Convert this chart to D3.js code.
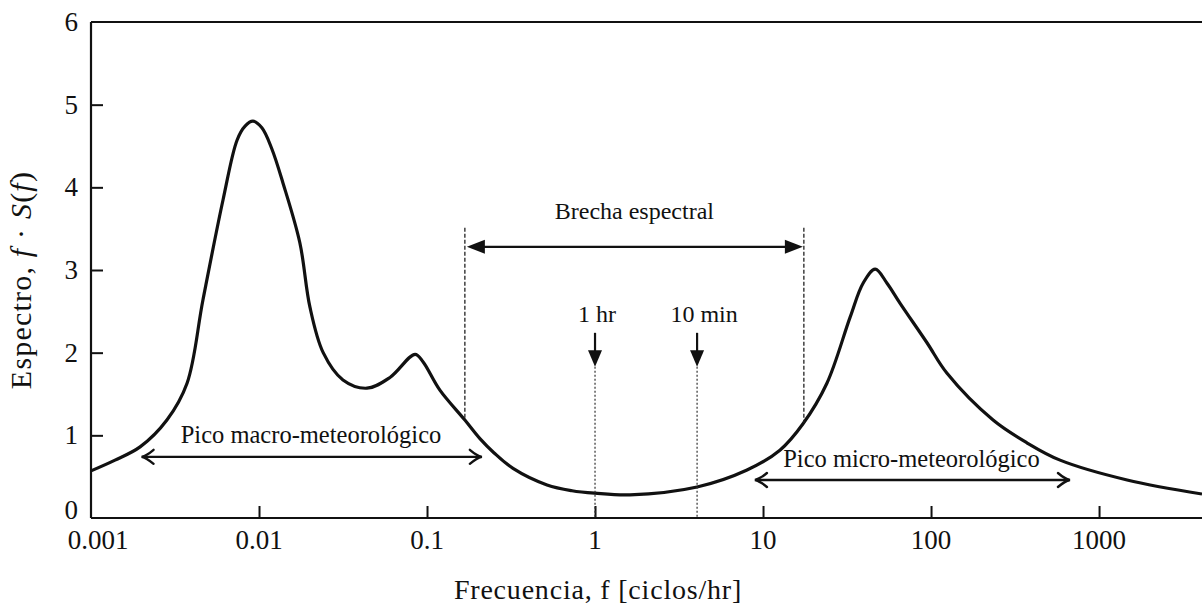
<!DOCTYPE html>
<html>
<head>
<meta charset="utf-8">
<script src="https://cdn.jsdelivr.net/npm/d3@7"></script>
<style>
  html, body { margin: 0; padding: 0; background: #fff; }
  svg { display: block; }
  text { font-family: "Liberation Serif", "DejaVu Serif", serif; fill: #111; }
</style>
</head>
<body>
<svg id="chart" width="1202" height="605"></svg>
<script>
// ---- data ----
const frequency = [0.001, 0.00139, 0.00196, 0.00283, 0.00373, 0.00464, 0.00611, 0.0074, 0.00826, 0.0092,
  0.0104, 0.0119, 0.0139, 0.0175, 0.0201, 0.0241, 0.0316, 0.0439, 0.0602, 0.0849, 0.0946, 0.119,
  0.168, 0.2065, 0.25, 0.325, 0.518, 0.73, 1.0, 1.615, 4.05, 8.03, 12.6, 17.3, 24.0, 33.0, 39.4, 46.5,
  54.7, 65.3, 94.6, 124.5, 234, 372, 586, 1469, 4100];
const spectrum = [0.57, 0.70, 0.86, 1.185, 1.63, 2.64, 3.85, 4.57, 4.74, 4.80,
  4.72, 4.47, 4.05, 3.33, 2.55, 2.0, 1.67, 1.57, 1.70, 1.98, 1.89, 1.55,
  1.185, 0.96, 0.79, 0.60, 0.40, 0.33, 0.30, 0.28, 0.375, 0.58, 0.82, 1.14, 1.63, 2.43, 2.84, 3.01,
  2.84, 2.60, 2.12, 1.75, 1.185, 0.91, 0.70, 0.46, 0.29];
const xTicks = [0.001, 0.01, 0.1, 1, 10, 100, 1000];
const xTickLabels = ["0.001", "0.01", "0.1", "1", "10", "100", "1000"];
const yTicks = [0, 1, 2, 3, 4, 5, 6];

// annotation anchors (data units)
const gapBounds = [0.168, 17.5];       // brecha espectral
const gapCurveValues = [1.185, 1.15];
const markerFreqs = [1, 4.05];
const markerLabels = ["1 hr", "10 min"];
const macroRange = [0.002, 0.212];
const microRange = [8.95, 671];

// ---- layout ----
const svg = d3.select("#chart");
const mLeft = 91, mTop = 22, mBottom = 518, mRight = 1202;
const x = d3.scaleLog().domain([0.001, 4100]).range([mLeft, mRight]);
const y = d3.scaleLinear().domain([0, 6]).range([mBottom, mTop]);

const g = svg.append("g");

// frame lines
g.append("line").attr("x1", mLeft).attr("x2", mRight).attr("y1", mTop).attr("y2", mTop)
  .attr("stroke", "#111").attr("stroke-width", 2.2);
g.append("line").attr("x1", mLeft).attr("x2", mLeft).attr("y1", mTop).attr("y2", mBottom)
  .attr("stroke", "#111").attr("stroke-width", 2.2);
g.append("line").attr("x1", mLeft).attr("x2", mRight).attr("y1", mBottom).attr("y2", mBottom)
  .attr("stroke", "#111").attr("stroke-width", 2.2);

// y ticks (inward)
const yAxis = d3.axisRight(y).tickValues(yTicks).tickSize(12).tickFormat("");
g.append("g").attr("transform", `translate(${mLeft},0)`).call(yAxis)
  .call(s => s.select(".domain").remove())
  .call(s => s.selectAll("line").attr("stroke", "#111").attr("stroke-width", 2))
  .call(s => s.selectAll(".tick").filter(d => d === 0 || d === 6).select("line").remove());
g.selectAll(".ylab").data(yTicks).join("text")
  .attr("class", "ylab")
  .attr("x", 78).attr("y", d => d === 0 ? y(d) + 1 : y(d) + 9)
  .attr("text-anchor", "end").attr("font-size", 27).text(d => d);

// x ticks (inward)
const xAxis = d3.axisTop(x).tickValues(xTicks).tickSize(12).tickFormat("");
g.append("g").attr("transform", `translate(0,${mBottom})`).call(xAxis)
  .call(s => s.select(".domain").remove())
  .call(s => s.selectAll("line").attr("stroke", "#111").attr("stroke-width", 2))
  .call(s => s.selectAll(".tick").filter(d => d === 0.001).select("line").remove());
g.selectAll(".xlab").data(xTicks).join("text")
  .attr("class", "xlab")
  .attr("x", (d, i) => x(d) + (i === 0 ? 7 : 0)).attr("y", 549)
  .attr("text-anchor", "middle").attr("font-size", 27).text((d, i) => xTickLabels[i]);

// axis titles
g.append("text").attr("x", 598).attr("y", 599).attr("text-anchor", "middle")
  .attr("font-size", 28).attr("letter-spacing", 0.8)
  .text("Frecuencia, f [ciclos/hr]");

const yt = g.append("text").attr("transform", "translate(31,280) rotate(-90)")
  .attr("text-anchor", "middle").attr("font-size", 30).attr("letter-spacing", 1.2);
yt.append("tspan").text("Espectro, ");
yt.append("tspan").attr("font-style", "italic").text("f");
yt.append("tspan").text(" · ");
yt.append("tspan").attr("font-style", "italic").text("S");
yt.append("tspan").text("(");
yt.append("tspan").attr("font-style", "italic").text("f");
yt.append("tspan").text(")");

// ---- curve ----
const pts = frequency.map((f, i) => [f, spectrum[i]]);
const line = d3.line().x(d => x(d[0])).y(d => y(d[1])).curve(d3.curveCatmullRom.alpha(0.5));
g.append("path").attr("d", line(pts)).attr("fill", "none")
  .attr("stroke", "#111").attr("stroke-width", 3.2).attr("stroke-linejoin", "round");

// ---- annotations ----
const ann = g.append("g");
// dashed gap boundaries
gapBounds.forEach((f, i) => {
  ann.append("line").attr("x1", x(f)).attr("x2", x(f))
    .attr("y1", y(3.51)).attr("y2", y(gapCurveValues[i]))
    .attr("stroke", "#222").attr("stroke-width", 1.3).attr("stroke-dasharray", "4,2");
});
// brecha double arrow
const by = y(3.28), bx0 = x(gapBounds[0]) + 2, bx1 = x(gapBounds[1]) - 1;
ann.append("line").attr("x1", bx0 + 10).attr("x2", bx1 - 10).attr("y1", by).attr("y2", by)
  .attr("stroke", "#111").attr("stroke-width", 2.2);
ann.append("path").attr("d", `M${bx0},${by} L${bx0 + 18},${by - 7} L${bx0 + 18},${by + 7} Z`).attr("fill", "#111");
ann.append("path").attr("d", `M${bx1},${by} L${bx1 - 18},${by - 7} L${bx1 - 18},${by + 7} Z`).attr("fill", "#111");
ann.append("text").attr("x", x(Math.sqrt(gapBounds[0] * gapBounds[1]))).attr("y", y(3.62))
  .attr("text-anchor", "middle").attr("font-size", 24).text("Brecha espectral");

// time markers
const labelShift = [2, 7];
markerFreqs.forEach((f, i) => {
  const mx = x(f);
  ann.append("line").attr("x1", mx).attr("x2", mx).attr("y1", y(1.83)).attr("y2", mBottom)
    .attr("stroke", "#333").attr("stroke-width", 1.2).attr("stroke-dasharray", "2,2");
  ann.append("line").attr("x1", mx).attr("x2", mx).attr("y1", y(2.24)).attr("y2", y(1.95))
    .attr("stroke", "#111").attr("stroke-width", 2.2);
  ann.append("path").attr("d", `M${mx},${y(1.83)} L${mx - 7},${y(2.03)} L${mx + 7},${y(2.03)} Z`).attr("fill", "#111");
  ann.append("text").attr("x", mx + labelShift[i]).attr("y", y(2.37)).attr("text-anchor", "middle")
    .attr("font-size", 24).text(markerLabels[i]);
});

// open-headed double arrows
function openArrow(f0, f1, v) {
  const x0 = x(f0), x1 = x(f1), yy = y(v);
  ann.append("line").attr("x1", x0 + 1).attr("x2", x1 - 1).attr("y1", yy).attr("y2", yy)
    .attr("stroke", "#111").attr("stroke-width", 2.4);
  ann.append("path").attr("d", `M${x0 + 12},${yy - 7} Q${x0 + 5},${yy - 1} ${x0},${yy} Q${x0 + 5},${yy + 1} ${x0 + 12},${yy + 7}`)
    .attr("fill", "none").attr("stroke", "#111").attr("stroke-width", 2.4).attr("stroke-linecap", "round");
  ann.append("path").attr("d", `M${x1 - 12},${yy - 7} Q${x1 - 5},${yy - 1} ${x1},${yy} Q${x1 - 5},${yy + 1} ${x1 - 12},${yy + 7}`)
    .attr("fill", "none").attr("stroke", "#111").attr("stroke-width", 2.4).attr("stroke-linecap", "round");
}
openArrow(macroRange[0], macroRange[1], 0.74);
ann.append("text").attr("x", x(0.0204)).attr("y", y(0.91)).attr("text-anchor", "middle")
  .attr("font-size", 24.5).text("Pico macro-meteorológico");
openArrow(microRange[0], microRange[1], 0.46);
ann.append("text").attr("x", x(76.5)).attr("y", y(0.62)).attr("text-anchor", "middle")
  .attr("font-size", 24.5).text("Pico micro-meteorológico");
</script>
</body>
</html>
